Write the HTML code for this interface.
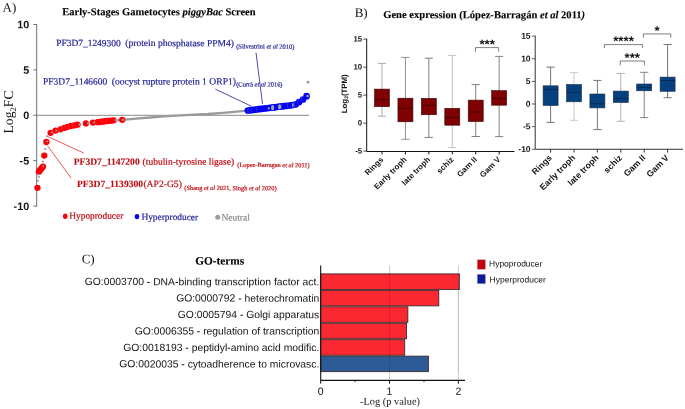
<!DOCTYPE html><html><head><meta charset="utf-8"><title>Figure</title>
<style>html,body{margin:0;padding:0;background:#fff}svg{display:block;will-change:transform;opacity:.999;text-rendering:geometricPrecision}.s{font-family:"Liberation Serif","DejaVu Serif",serif}.a{font-family:"Liberation Sans","DejaVu Sans",sans-serif}</style></head><body>
<svg width="685" height="409" viewBox="0 0 685 409">
<rect width="685" height="409" fill="#fff"/>
<g id="panelA">
<text class="s" x="2.5" y="11.8" font-size="13" fill="#111" transform="rotate(0.04 2.5 11.8)">A)</text>
<text class="s" x="62.2" y="15.2" font-size="10.53" font-weight="bold" fill="#000" stroke="#000" stroke-width="0.12" transform="rotate(0.04 62.2 15.2)">Early-Stages Gametocytes <tspan font-style="italic">piggyBac</tspan> Screen</text>
<path d="M36.7 24.0V206.6" stroke="#6e6e6e" stroke-width="1" fill="none"/>
<path d="M33.400000000000006 24.5H36.7" stroke="#6e6e6e" stroke-width="1"/>
<text class="a" x="29.2" y="28.3" font-size="10.8" font-weight="bold" text-anchor="end" fill="#111" transform="rotate(0.04 29.2 28.3)">10</text>
<path d="M33.400000000000006 69.9H36.7" stroke="#6e6e6e" stroke-width="1"/>
<text class="a" x="29.2" y="73.7" font-size="10.8" font-weight="bold" text-anchor="end" fill="#111" transform="rotate(0.04 29.2 73.7)">5</text>
<path d="M33.400000000000006 115.3H36.7" stroke="#6e6e6e" stroke-width="1"/>
<text class="a" x="29.2" y="119.1" font-size="10.8" font-weight="bold" text-anchor="end" fill="#111" transform="rotate(0.04 29.2 119.1)">0</text>
<path d="M33.400000000000006 160.7H36.7" stroke="#6e6e6e" stroke-width="1"/>
<text class="a" x="29.2" y="164.5" font-size="10.8" font-weight="bold" text-anchor="end" fill="#111" transform="rotate(0.04 29.2 164.5)">-5</text>
<path d="M33.400000000000006 206.1H36.7" stroke="#6e6e6e" stroke-width="1"/>
<text class="a" x="29.2" y="209.9" font-size="10.8" font-weight="bold" text-anchor="end" fill="#111" transform="rotate(0.04 29.2 209.9)">-10</text>
<path d="M36.7 115.3H309" stroke="#8a8a8a" stroke-width="1"/>
<text class="s" transform="translate(13.3,112) rotate(-90)" font-size="13.7" text-anchor="middle" fill="#111">Log<tspan font-size="8.5" dy="2.6">2</tspan><tspan dy="-2.6">FC</tspan></text>
<polyline points="118,120.2 122.8,119.8 136,118.7 150,117.5 161,116.6 172,115.8 190,114.95 208,114.0 223,112.8 234,111.8 247,110.6" stroke="#9a9a9a" stroke-width="2.3" fill="none" stroke-linejoin="round" stroke-linecap="round"/>
<path d="M256 52.6L262.5 104" stroke="#1f1f94" stroke-width="0.8" fill="none"/>
<path d="M215.3 89.1L251.5 106.3" stroke="#1f1f94" stroke-width="0.8" fill="none"/>
<path d="M47.7 136.5L83.7 153" stroke="#e03030" stroke-width="0.8" fill="none"/>
<path d="M47.7 146L71.2 178.2" stroke="#e03030" stroke-width="0.8" fill="none"/>
<circle cx="37.5" cy="187.8" r="3.15" fill="#fb0007"/>
<circle cx="38.9" cy="171.7" r="3.15" fill="#fb0007"/>
<circle cx="39.8" cy="170.5" r="3.15" fill="#fb0007"/>
<circle cx="40.7" cy="169.3" r="3.15" fill="#fb0007"/>
<circle cx="41.8" cy="168" r="3.15" fill="#fb0007"/>
<circle cx="43.0" cy="166.6" r="3.15" fill="#fb0007"/>
<circle cx="44.3" cy="155.6" r="3.15" fill="#fb0007"/>
<circle cx="46.4" cy="142.0" r="3.15" fill="#fb0007"/>
<circle cx="50.6" cy="132.8" r="3.15" fill="#fb0007"/>
<circle cx="55.5" cy="130.6" r="3.15" fill="#fb0007"/>
<circle cx="60.5" cy="129.3" r="3.15" fill="#fb0007"/>
<circle cx="64.3" cy="127.9" r="3.15" fill="#fb0007"/>
<circle cx="67.6" cy="126.8" r="3.15" fill="#fb0007"/>
<circle cx="70.9" cy="126" r="3.15" fill="#fb0007"/>
<circle cx="74.2" cy="125.4" r="3.15" fill="#fb0007"/>
<circle cx="77.5" cy="124.7" r="3.15" fill="#fb0007"/>
<circle cx="85.9" cy="123.4" r="3.15" fill="#fb0007"/>
<circle cx="92.9" cy="122.6" r="3.15" fill="#fb0007"/>
<circle cx="97.6" cy="122.2" r="3.15" fill="#fb0007"/>
<circle cx="99.5" cy="122.0" r="3.15" fill="#fb0007"/>
<circle cx="101.5" cy="121.7" r="3.15" fill="#fb0007"/>
<circle cx="103.5" cy="121.5" r="3.15" fill="#fb0007"/>
<circle cx="105.5" cy="121.2" r="3.15" fill="#fb0007"/>
<circle cx="107.5" cy="121.0" r="3.15" fill="#fb0007"/>
<circle cx="109.5" cy="120.8" r="3.15" fill="#fb0007"/>
<circle cx="111.5" cy="120.6" r="3.15" fill="#fb0007"/>
<circle cx="113.7" cy="120.3" r="3.15" fill="#fb0007"/>
<circle cx="122.2" cy="119.8" r="3.15" fill="#fb0007"/>
<path d="M59.3 127.10000000000001a3 3 0 0 0 0 4.4" stroke="#ff8080" stroke-opacity="0.55" stroke-width="0.5" fill="none"/>
<path d="M63.099999999999994 125.7a3 3 0 0 0 0 4.4" stroke="#ff8080" stroke-opacity="0.55" stroke-width="0.5" fill="none"/>
<path d="M66.39999999999999 124.6a3 3 0 0 0 0 4.4" stroke="#ff8080" stroke-opacity="0.55" stroke-width="0.5" fill="none"/>
<path d="M69.7 123.8a3 3 0 0 0 0 4.4" stroke="#ff8080" stroke-opacity="0.55" stroke-width="0.5" fill="none"/>
<path d="M73.0 123.2a3 3 0 0 0 0 4.4" stroke="#ff8080" stroke-opacity="0.55" stroke-width="0.5" fill="none"/>
<path d="M102.8 119.2a3 3 0 0 0 0 4.4" stroke="#ff8080" stroke-opacity="0.55" stroke-width="0.5" fill="none"/>
<path d="M106.8 118.7a3 3 0 0 0 0 4.4" stroke="#ff8080" stroke-opacity="0.55" stroke-width="0.5" fill="none"/>
<circle cx="80" cy="124.6" r="1.5" fill="#9f9898"/>
<circle cx="88.3" cy="123.1" r="1.3" fill="#9f9898"/>
<circle cx="94.3" cy="122.4" r="1.1" fill="#9f9898"/>
<circle cx="116" cy="120.1" r="1.3" fill="#9f9898"/>
<circle cx="123" cy="119.8" r="1.2" fill="#9f9898"/>
<circle cx="45.1" cy="149" r="1.1" fill="#9f9898"/>
<circle cx="42.9" cy="161.5" r="1.1" fill="#9f9898"/>
<circle cx="38.9" cy="177.1" r="1.0" fill="#9f9898"/>
<circle cx="37.9" cy="180.8" r="1.0" fill="#9f9898"/>
<circle cx="38.3" cy="174.5" r="0.9" fill="#9f9898"/>
<circle cx="47.3" cy="141.5" r="1.1" fill="#9f9898"/>
<circle cx="47" cy="136.3" r="1.1" fill="#9f9898"/>
<circle cx="52" cy="132.4" r="1.1" fill="#9f9898"/>
<circle cx="56.2" cy="130.5" r="1.0" fill="#9f9898"/>
<circle cx="43.2" cy="166.0" r="0.9" fill="#9f9898"/>
<circle cx="247.9" cy="110.5" r="3.35" fill="#0505f2"/>
<circle cx="250.5" cy="110.2" r="3.35" fill="#0505f2"/>
<circle cx="253.1" cy="109.9" r="3.35" fill="#0505f2"/>
<circle cx="255.7" cy="109.6" r="3.35" fill="#0505f2"/>
<circle cx="258.3" cy="109.2" r="3.35" fill="#0505f2"/>
<circle cx="260.9" cy="108.9" r="3.35" fill="#0505f2"/>
<circle cx="263.5" cy="108.6" r="3.35" fill="#0505f2"/>
<circle cx="266.1" cy="108.3" r="3.35" fill="#0505f2"/>
<circle cx="268.7" cy="108.0" r="3.35" fill="#0505f2"/>
<circle cx="271.3" cy="107.7" r="3.35" fill="#0505f2"/>
<circle cx="273.9" cy="107.4" r="3.35" fill="#0505f2"/>
<circle cx="276.5" cy="107.0" r="3.35" fill="#0505f2"/>
<circle cx="279.1" cy="106.7" r="3.35" fill="#0505f2"/>
<circle cx="281.7" cy="106.4" r="3.35" fill="#0505f2"/>
<circle cx="284.3" cy="106.1" r="3.35" fill="#0505f2"/>
<circle cx="286.9" cy="105.8" r="3.35" fill="#0505f2"/>
<circle cx="289.5" cy="105.5" r="3.35" fill="#0505f2"/>
<circle cx="292.1" cy="105.1" r="3.35" fill="#0505f2"/>
<circle cx="295.9" cy="104.3" r="3.35" fill="#0505f2"/>
<circle cx="299.1" cy="102" r="3.35" fill="#0505f2"/>
<circle cx="303" cy="99.5" r="3.35" fill="#0505f2"/>
<circle cx="306.6" cy="96.2" r="3.35" fill="#0505f2"/>
<path d="M248.8 108.0a3.1 3.1 0 0 0 0 4.6" stroke="#9a9aff" stroke-opacity="0.6" stroke-width="0.5" fill="none"/>
<path d="M251.8 107.7a3.1 3.1 0 0 0 0 4.6" stroke="#9a9aff" stroke-opacity="0.6" stroke-width="0.5" fill="none"/>
<path d="M257.3 107.10000000000001a3.1 3.1 0 0 0 0 4.6" stroke="#9a9aff" stroke-opacity="0.6" stroke-width="0.5" fill="none"/>
<path d="M282.3 103.9a3.1 3.1 0 0 0 0 4.6" stroke="#9a9aff" stroke-opacity="0.6" stroke-width="0.5" fill="none"/>
<path d="M288.3 103.10000000000001a3.1 3.1 0 0 0 0 4.6" stroke="#9a9aff" stroke-opacity="0.6" stroke-width="0.5" fill="none"/>
<path d="M295.3 101.3a3.1 3.1 0 0 0 0 4.6" stroke="#9a9aff" stroke-opacity="0.6" stroke-width="0.5" fill="none"/>
<path d="M298.3 99.3a3.1 3.1 0 0 0 0 4.6" stroke="#9a9aff" stroke-opacity="0.6" stroke-width="0.5" fill="none"/>
<path d="M302.0 96.9a3.1 3.1 0 0 0 0 4.6" stroke="#9a9aff" stroke-opacity="0.6" stroke-width="0.5" fill="none"/>
<ellipse cx="272.6" cy="107.7" rx="1.6" ry="2.6" fill="#a6a6a6"/>
<ellipse cx="279.6" cy="106.8" rx="1.6" ry="2.6" fill="#a6a6a6"/>
<ellipse cx="292.9" cy="105" rx="0.8" ry="2.3" fill="#a6a6a6"/>
<circle cx="268.8" cy="108.4" r="1.1" fill="#9a9ab8"/>
<circle cx="307.6" cy="96" r="1.3" fill="#a3a3a3"/>
<circle cx="308" cy="82.2" r="1.4" fill="#9a9a9a"/>
<text class="s" x="56.2" y="46.1" font-size="9.45" fill="#1f1f94" stroke="#1f1f94" stroke-width="0.2" transform="rotate(0.04 56.2 46.1)">PF3D7_1249300</text>
<text class="s" x="125.3" y="46.1" font-size="9.55" fill="#1f1f94" stroke="#1f1f94" stroke-width="0.2" transform="rotate(0.04 125.3 46.1)">(protein phosphatase PPM4)</text>
<text class="s" x="236.2" y="48.6" font-size="6.45" fill="#1f1f94" stroke="#1f1f94" stroke-width="0.2" transform="rotate(0.04 236.2 48.6)">(Silvestrini <tspan font-style="italic">et al</tspan> 2010)</text>
<text class="s" x="43.1" y="84.5" font-size="9.45" fill="#1f1f94" stroke="#1f1f94" stroke-width="0.2" transform="rotate(0.04 43.1 84.5)">PF3D7_1146600</text>
<text class="s" x="111.8" y="84.5" font-size="9.6" fill="#1f1f94" stroke="#1f1f94" stroke-width="0.2" transform="rotate(0.04 111.8 84.5)">(oocyst rupture protein 1 ORP1)</text>
<text class="s" x="236.2" y="86.4" font-size="6.45" fill="#1f1f94" stroke="#1f1f94" stroke-width="0.2" transform="rotate(0.04 236.2 86.4)">(Currà <tspan font-style="italic">et al</tspan> 2016)</text>
<text class="s" x="73.7" y="164.8" font-size="9.58" font-weight="bold" fill="#bd0a12" stroke="#bd0a12" stroke-width="0.1" transform="rotate(0.04 73.7 164.8)">PF3D7_1147200</text>
<text class="s" x="142.6" y="164.8" font-size="9.5" fill="#bd0a12" stroke="#bd0a12" stroke-width="0.2" transform="rotate(0.04 142.6 164.8)">(tubulin-tyrosine ligase)</text>
<text class="s" x="237.3" y="167.1" font-size="6.37" fill="#bd0a12" stroke="#bd0a12" stroke-width="0.2" transform="rotate(0.04 237.3 167.1)">(Lopez-Barragan <tspan font-style="italic">et al</tspan> 2011)</text>
<text class="s" x="77.0" y="186.9" font-size="9.6" font-weight="bold" fill="#bd0a12" stroke="#bd0a12" stroke-width="0.1" transform="rotate(0.04 77.0 186.9)">PF3D7_1139300</text>
<text class="s" x="143.4" y="186.9" font-size="9.65" fill="#bd0a12" stroke="#bd0a12" stroke-width="0.2" transform="rotate(0.04 143.4 186.9)">(AP2-G5)</text>
<text class="s" x="184.3" y="190.1" font-size="6.36" fill="#bd0a12" stroke="#bd0a12" stroke-width="0.2" transform="rotate(0.04 184.3 190.1)">(Shang <tspan font-style="italic">et al</tspan> 2021, Singh <tspan font-style="italic">et al</tspan> 2020)</text>
<ellipse cx="65.2" cy="216.2" rx="2.3" ry="2.7" fill="#fb0007"/>
<text class="s" x="69.3" y="218.8" font-size="9.35" fill="#bd0a12" stroke="#bd0a12" stroke-width="0.2" transform="rotate(0.04 69.3 218.8)">Hypoproducer</text>
<ellipse cx="137" cy="216.6" rx="2.3" ry="2.7" fill="#0505f2"/>
<text class="s" x="141.4" y="220.1" font-size="9.4" fill="#1f1f94" stroke="#1f1f94" stroke-width="0.2" transform="rotate(0.04 141.4 220.1)">Hyperproducer</text>
<circle cx="217.7" cy="217.2" r="2.5" fill="#9c9c9c"/>
<text class="s" x="221.4" y="220.4" font-size="9.5" fill="#8a8a8a" stroke="#8a8a8a" stroke-width="0.2" transform="rotate(0.04 221.4 220.4)">Neutral</text>
</g>
<g id="panelB">
<text class="s" x="354.7" y="17" font-size="13" fill="#111" transform="rotate(0.04 354.7 17)">B)</text>
<text class="s" x="383.2" y="18.1" font-size="10.57" font-weight="bold" fill="#000" stroke="#000" stroke-width="0.12" transform="rotate(0.04 383.2 18.1)">Gene expression (López-Barragán <tspan font-style="italic">et al</tspan> 2011<tspan font-style="italic">)</tspan></text>
<path d="M382.0 63.4V116.2M377.9 63.4H386.1M377.9 116.2H386.1" stroke="#a4a4a4" stroke-width="0.9" fill="none"/>
<rect x="374.50" y="89.1" width="15.0" height="17.60" fill="#800000" stroke="#3a0c0c" stroke-width="0.6"/>
<path d="M374.50 99.35H389.50" stroke="#2a0000" stroke-opacity="0.85" stroke-width="0.75"/>
<path d="M405.43 57.4V139.3M401.33 57.4H409.53000000000003M401.33 139.3H409.53000000000003" stroke="#858585" stroke-width="0.9" fill="none"/>
<rect x="397.93" y="98.2" width="15.0" height="23.60" fill="#800000" stroke="#3a0c0c" stroke-width="0.6"/>
<path d="M397.93 108.3H412.93" stroke="#2a0000" stroke-opacity="0.85" stroke-width="0.75"/>
<path d="M428.86 58.2V137.4M424.76 58.2H432.96000000000004M424.76 137.4H432.96000000000004" stroke="#727272" stroke-width="0.9" fill="none"/>
<rect x="421.36" y="98.3" width="15.0" height="16.45" fill="#800000" stroke="#3a0c0c" stroke-width="0.6"/>
<path d="M421.36 105.4H436.36" stroke="#2a0000" stroke-opacity="0.85" stroke-width="0.75"/>
<path d="M452.29 55.4V147.5M448.19 55.4H456.39000000000004M448.19 147.5H456.39000000000004" stroke="#bcbcbc" stroke-width="0.9" fill="none"/>
<rect x="444.79" y="108.3" width="15.0" height="16.90" fill="#800000" stroke="#3a0c0c" stroke-width="0.6"/>
<path d="M444.79 117.4H459.79" stroke="#2a0000" stroke-opacity="0.85" stroke-width="0.75"/>
<path d="M475.72 84.6V136.5M471.62 84.6H479.82000000000005M471.62 136.5H479.82000000000005" stroke="#727272" stroke-width="0.9" fill="none"/>
<rect x="468.22" y="100.1" width="15.0" height="21.50" fill="#800000" stroke="#3a0c0c" stroke-width="0.6"/>
<path d="M468.22 112.0H483.22" stroke="#2a0000" stroke-opacity="0.85" stroke-width="0.75"/>
<path d="M499.15 56.4V136.6M495.04999999999995 56.4H503.25M495.04999999999995 136.6H503.25" stroke="#747474" stroke-width="0.9" fill="none"/>
<rect x="491.65" y="90.6" width="15.0" height="14.60" fill="#800000" stroke="#3a0c0c" stroke-width="0.6"/>
<path d="M491.65 98.5H506.65" stroke="#2a0000" stroke-opacity="0.85" stroke-width="0.75"/>
<path d="M366.7 38.599999999999994V151.5H514.5" stroke="#111" stroke-width="1.0" fill="none"/>
<path d="M363.3 39.10H366.7" stroke="#111" stroke-width="0.75"/>
<text class="a" x="362.09999999999997" y="41.60" font-size="7.8" font-weight="bold" text-anchor="end" fill="#111" transform="rotate(0.04 362.09999999999997 41.60)">15</text>
<path d="M363.3 67.10H366.7" stroke="#111" stroke-width="0.75"/>
<text class="a" x="362.09999999999997" y="69.60" font-size="7.8" font-weight="bold" text-anchor="end" fill="#111" transform="rotate(0.04 362.09999999999997 69.60)">10</text>
<path d="M363.3 95.10H366.7" stroke="#111" stroke-width="0.75"/>
<text class="a" x="362.09999999999997" y="97.60" font-size="7.8" font-weight="bold" text-anchor="end" fill="#111" transform="rotate(0.04 362.09999999999997 97.60)">5</text>
<path d="M363.3 123.10H366.7" stroke="#111" stroke-width="0.75"/>
<text class="a" x="362.09999999999997" y="125.60" font-size="7.8" font-weight="bold" text-anchor="end" fill="#111" transform="rotate(0.04 362.09999999999997 125.60)">0</text>
<path d="M363.3 151.10H366.7" stroke="#111" stroke-width="0.75"/>
<text class="a" x="362.09999999999997" y="153.60" font-size="7.8" font-weight="bold" text-anchor="end" fill="#111" transform="rotate(0.04 362.09999999999997 153.60)">-5</text>
<path d="M382.0 151.1v3.3" stroke="#111" stroke-width="1"/>
<text class="a" transform="translate(383.8,160.1) rotate(-45)" font-size="8.0" font-weight="bold" text-anchor="end" fill="#111">Rings</text>
<path d="M405.43 151.1v3.3" stroke="#111" stroke-width="1"/>
<text class="a" transform="translate(407.2,160.1) rotate(-45)" font-size="8.0" font-weight="bold" text-anchor="end" fill="#111">Early troph</text>
<path d="M428.86 151.1v3.3" stroke="#111" stroke-width="1"/>
<text class="a" transform="translate(430.7,160.1) rotate(-45)" font-size="8.0" font-weight="bold" text-anchor="end" fill="#111">late troph</text>
<path d="M452.29 151.1v3.3" stroke="#111" stroke-width="1"/>
<text class="a" transform="translate(454.1,160.1) rotate(-45)" font-size="8.0" font-weight="bold" text-anchor="end" fill="#111">schiz</text>
<path d="M475.72 151.1v3.3" stroke="#111" stroke-width="1"/>
<text class="a" transform="translate(477.5,160.1) rotate(-45)" font-size="8.0" font-weight="bold" text-anchor="end" fill="#111">Gam II</text>
<path d="M499.15 151.1v3.3" stroke="#111" stroke-width="1"/>
<text class="a" transform="translate(500.9,160.1) rotate(-45)" font-size="8.0" font-weight="bold" text-anchor="end" fill="#111">Gam V</text>
<text class="a" transform="translate(346.7,93.8) rotate(-90)" font-size="7.8" font-weight="bold" text-anchor="middle" fill="#111">Log<tspan font-size="5" dy="1.5">2</tspan><tspan dy="-1.5">(TPM)</tspan></text>
<path d="M475.5 51.7V47.6H498.6V51.7" stroke="#5e5e5e" stroke-width="0.8" fill="none"/>
<text class="a" x="487.1" y="48.7" font-size="13.2" font-weight="bold" text-anchor="middle" fill="#111" transform="rotate(0.04 487.1 48.7)">***</text>
<path d="M550.6 67.1V122.4M546.5 67.1H554.7M546.5 122.4H554.7" stroke="#666" stroke-width="0.9" fill="none"/>
<rect x="543.10" y="85.8" width="15.0" height="19.70" fill="#07407f" stroke="#1a2f4c" stroke-width="0.6"/>
<path d="M543.10 89.3H558.10" stroke="#04203f" stroke-opacity="0.85" stroke-width="0.75"/>
<path d="M574.0 72.7V120.3M569.9 72.7H578.1M569.9 120.3H578.1" stroke="#c2c2c2" stroke-width="0.9" fill="none"/>
<rect x="566.50" y="84.5" width="15.0" height="17.30" fill="#07407f" stroke="#1a2f4c" stroke-width="0.6"/>
<path d="M566.50 92.3H581.50" stroke="#04203f" stroke-opacity="0.85" stroke-width="0.75"/>
<path d="M597.4 80.4V129.6M593.3 80.4H601.5M593.3 129.6H601.5" stroke="#666" stroke-width="0.9" fill="none"/>
<rect x="589.90" y="94.0" width="15.0" height="13.90" fill="#07407f" stroke="#1a2f4c" stroke-width="0.6"/>
<path d="M589.90 103.7H604.90" stroke="#04203f" stroke-opacity="0.85" stroke-width="0.75"/>
<path d="M620.8 73.5V121.3M616.6999999999999 73.5H624.9M616.6999999999999 121.3H624.9" stroke="#aaa" stroke-width="0.9" fill="none"/>
<rect x="613.30" y="91.1" width="15.0" height="11.40" fill="#07407f" stroke="#1a2f4c" stroke-width="0.6"/>
<path d="M613.30 98.6H628.30" stroke="#04203f" stroke-opacity="0.85" stroke-width="0.75"/>
<path d="M644.2 72.3V117.6M640.1 72.3H648.3000000000001M640.1 117.6H648.3000000000001" stroke="#777" stroke-width="0.9" fill="none"/>
<rect x="636.70" y="84.0" width="15.0" height="6.80" fill="#07407f" stroke="#1a2f4c" stroke-width="0.6"/>
<path d="M636.70 87.4H651.70" stroke="#04203f" stroke-opacity="0.85" stroke-width="0.75"/>
<path d="M667.6 44.5V97.7M663.5 44.5H671.7M663.5 97.7H671.7" stroke="#666" stroke-width="0.9" fill="none"/>
<rect x="660.10" y="77.1" width="15.0" height="14.20" fill="#07407f" stroke="#1a2f4c" stroke-width="0.6"/>
<path d="M660.10 80.5H675.10" stroke="#04203f" stroke-opacity="0.85" stroke-width="0.75"/>
<path d="M535.2 35.58000000000001V149.28H683" stroke="#333" stroke-width="1.0" fill="none"/>
<path d="M531.8000000000001 36.08H535.2" stroke="#333" stroke-width="0.75"/>
<text class="a" x="530.6" y="38.80" font-size="8.5" font-weight="bold" text-anchor="end" fill="#111" transform="rotate(0.04 530.6 38.80)">15</text>
<path d="M531.8000000000001 58.72H535.2" stroke="#333" stroke-width="0.75"/>
<text class="a" x="530.6" y="61.44" font-size="8.5" font-weight="bold" text-anchor="end" fill="#111" transform="rotate(0.04 530.6 61.44)">10</text>
<path d="M531.8000000000001 81.36H535.2" stroke="#333" stroke-width="0.75"/>
<text class="a" x="530.6" y="84.08" font-size="8.5" font-weight="bold" text-anchor="end" fill="#111" transform="rotate(0.04 530.6 84.08)">5</text>
<path d="M531.8000000000001 104.00H535.2" stroke="#333" stroke-width="0.75"/>
<text class="a" x="530.6" y="106.72" font-size="8.5" font-weight="bold" text-anchor="end" fill="#111" transform="rotate(0.04 530.6 106.72)">0</text>
<path d="M531.8000000000001 126.64H535.2" stroke="#333" stroke-width="0.75"/>
<text class="a" x="530.6" y="129.36" font-size="8.5" font-weight="bold" text-anchor="end" fill="#111" transform="rotate(0.04 530.6 129.36)">-5</text>
<path d="M531.8000000000001 149.28H535.2" stroke="#333" stroke-width="0.75"/>
<text class="a" x="530.6" y="152.00" font-size="8.5" font-weight="bold" text-anchor="end" fill="#111" transform="rotate(0.04 530.6 152.00)">-10</text>
<path d="M550.6 149.28v3.3" stroke="#333" stroke-width="1"/>
<text class="a" transform="translate(552.4,158.3) rotate(-45)" font-size="8.7" font-weight="bold" text-anchor="end" fill="#111">Rings</text>
<path d="M574.0 149.28v3.3" stroke="#333" stroke-width="1"/>
<text class="a" transform="translate(575.8,158.3) rotate(-45)" font-size="8.7" font-weight="bold" text-anchor="end" fill="#111">Early troph</text>
<path d="M597.4 149.28v3.3" stroke="#333" stroke-width="1"/>
<text class="a" transform="translate(599.2,158.3) rotate(-45)" font-size="8.7" font-weight="bold" text-anchor="end" fill="#111">late troph</text>
<path d="M620.8 149.28v3.3" stroke="#333" stroke-width="1"/>
<text class="a" transform="translate(622.6,158.3) rotate(-45)" font-size="8.7" font-weight="bold" text-anchor="end" fill="#111">schiz</text>
<path d="M644.2 149.28v3.3" stroke="#333" stroke-width="1"/>
<text class="a" transform="translate(646.0,158.3) rotate(-45)" font-size="8.7" font-weight="bold" text-anchor="end" fill="#111">Gam II</text>
<path d="M667.6 149.28v3.3" stroke="#333" stroke-width="1"/>
<text class="a" transform="translate(669.4,158.3) rotate(-45)" font-size="8.7" font-weight="bold" text-anchor="end" fill="#111">Gam V</text>
<path d="M643.4 37.699999999999996V33.9H670.8V37.699999999999996" stroke="#5e5e5e" stroke-width="0.8" fill="none"/>
<text class="a" x="657.1" y="35.2" font-size="13.2" font-weight="bold" text-anchor="middle" fill="#111" transform="rotate(0.04 657.1 35.2)">*</text>
<path d="M604.4 48.1V44.6H642.6V48.1" stroke="#5e5e5e" stroke-width="0.8" fill="none"/>
<text class="a" x="623.5" y="45.6" font-size="13.2" font-weight="bold" text-anchor="middle" fill="#111" transform="rotate(0.04 623.5 45.6)">****</text>
<path d="M620.2 65.4V61.0H644.4V65.4" stroke="#5e5e5e" stroke-width="0.8" fill="none"/>
<text class="a" x="632.3" y="62.3" font-size="13.2" font-weight="bold" text-anchor="middle" fill="#111" transform="rotate(0.04 632.3 62.3)">***</text>
</g>
<g id="panelC">
<text class="s" x="81.7" y="263.3" font-size="13" fill="#111" transform="rotate(0.04 81.7 263.3)">C)</text>
<text class="s" x="195.2" y="264.5" font-size="11.3" font-weight="bold" fill="#000" stroke="#000" stroke-width="0.12" transform="rotate(0.04 195.2 264.5)">GO-terms</text>
<path d="M389.55 265.5V380.3" stroke="#c9c9c9" stroke-width="0.9"/>
<path d="M458.40 265.5V380.3" stroke="#c9c9c9" stroke-width="0.9"/>
<rect x="320.7" y="273.90" width="138.60" height="15.5" fill="#fb2832" stroke="#3a2a2a" stroke-width="0.9"/>
<text class="a" x="319.3" y="285.25" font-size="10.35" text-anchor="end" fill="#111" transform="rotate(0.04 319.3 285.25)">GO:0003700 - DNA-binding transcription factor act.</text>
<rect x="320.7" y="290.35" width="118.08" height="15.5" fill="#fb2832" stroke="#3a2a2a" stroke-width="0.9"/>
<text class="a" x="319.3" y="301.70" font-size="10.35" text-anchor="end" fill="#111" transform="rotate(0.04 319.3 301.70)">GO:0000792 - heterochromatin</text>
<rect x="320.7" y="306.80" width="87.16" height="15.5" fill="#fb2832" stroke="#3a2a2a" stroke-width="0.9"/>
<text class="a" x="319.3" y="318.15" font-size="10.35" text-anchor="end" fill="#111" transform="rotate(0.04 319.3 318.15)">GO:0005794 - Golgi apparatus</text>
<rect x="320.7" y="323.25" width="85.86" height="15.5" fill="#fb2832" stroke="#3a2a2a" stroke-width="0.9"/>
<text class="a" x="319.3" y="334.60" font-size="10.35" text-anchor="end" fill="#111" transform="rotate(0.04 319.3 334.60)">GO:0006355 - regulation of transcription</text>
<rect x="320.7" y="339.70" width="84.00" height="15.5" fill="#fb2832" stroke="#3a2a2a" stroke-width="0.9"/>
<text class="a" x="319.3" y="351.05" font-size="10.35" text-anchor="end" fill="#111" transform="rotate(0.04 319.3 351.05)">GO:0018193 - peptidyl-amino acid modific.</text>
<rect x="320.7" y="356.15" width="107.68" height="15.5" fill="#2d5b96" stroke="#3a2a2a" stroke-width="0.9"/>
<text class="a" x="319.3" y="367.50" font-size="10.35" text-anchor="end" fill="#111" transform="rotate(0.04 319.3 367.50)">GO:0020035 - cytoadherence to microvasc.</text>
<path d="M389.55 273.9V372" stroke="#000" stroke-opacity="0.13" stroke-width="0.8"/>
<path d="M458.40 273.9V372" stroke="#000" stroke-opacity="0.13" stroke-width="0.8"/>
<path d="M320.7 265.5V380.4H465" stroke="#111" stroke-width="1.1" fill="none"/>
<path d="M320.70 380.4v3.3" stroke="#111" stroke-width="1"/>
<text class="a" x="320.70" y="394.8" font-size="10.5" text-anchor="middle" fill="#111" transform="rotate(0.04 320.70 394.8)">0</text>
<path d="M389.55 380.4v3.3" stroke="#111" stroke-width="1"/>
<text class="a" x="389.55" y="394.8" font-size="10.5" text-anchor="middle" fill="#111" transform="rotate(0.04 389.55 394.8)">1</text>
<path d="M458.40 380.4v3.3" stroke="#111" stroke-width="1"/>
<text class="a" x="458.40" y="394.8" font-size="10.5" text-anchor="middle" fill="#111" transform="rotate(0.04 458.40 394.8)">2</text>
<path d="M355.12 380.4v1.7" stroke="#111" stroke-width="0.9"/>
<path d="M423.97 380.4v1.7" stroke="#111" stroke-width="0.9"/>
<text class="s" x="390" y="404.8" font-size="10.4" text-anchor="middle" fill="#111" transform="rotate(0.04 390 404.8)">-Log (p value)</text>
<rect x="477.2" y="259.7" width="8.3" height="9.6" fill="#c40010" stroke="#c9b0b0" stroke-width="0.6"/>
<text class="a" x="489" y="266.6" font-size="8.5" fill="#111" transform="rotate(0.04 489 266.6)">Hypoproducer</text>
<rect x="477.2" y="274.2" width="8.3" height="9.6" fill="#0a1a96" stroke="#b0b0c9" stroke-width="0.6"/>
<text class="a" x="489.6" y="282.4" font-size="8.5" fill="#111" transform="rotate(0.04 489.6 282.4)">Hyperproducer</text>
</g>
</svg></body></html>
